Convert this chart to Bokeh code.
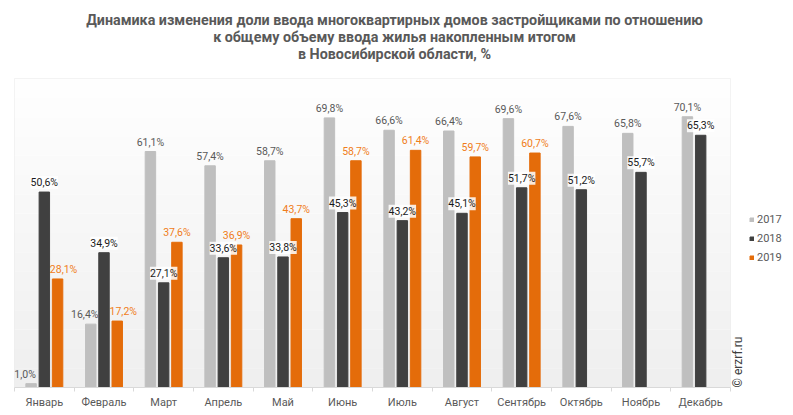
import math
from bokeh.plotting import figure
from bokeh.models import (ColumnDataSource, Range1d, FixedTicker, LabelSet, Label,
                          BoxAnnotation, Legend, LegendItem)
from bokeh.core.properties import value
from bokeh.transform import dodge
from bokeh.embed import file_html
from bokeh.resources import INLINE

# ---- data ----
months = ["Январь", "Февраль", "Март", "Апрель", "Май", "Июнь", "Июль",
          "Август", "Сентябрь", "Октябрь", "Ноябрь", "Декабрь"]
v2017 = [1.0, 16.4, 61.1, 57.4, 58.7, 69.8, 66.6, 66.4, 69.6, 67.6, 65.8, 70.1]
v2018 = [50.6, 34.9, 27.1, 33.6, 33.8, 45.3, 43.2, 45.1, 51.7, 51.2, 55.7, 65.3]
v2019 = [28.1, 17.2, 37.6, 36.9, 43.7, 58.7, 61.4, 59.7, 60.7]
series_names = ["2017", "2018", "2019"]
title_lines = ["Динамика изменения доли ввода многоквартирных домов застройщиками по отношению",
               "к общему объему ввода жилья накопленным итогом",
               "в Новосибирской области, %"]
watermark = "© erzrf.ru"
y_max = 80

C17, C18, C19 = "#bfbfbf", "#404040", "#e46c0a"
TXT = "#595959"
FONT = "Roboto"

# ---- layout geometry (pixels) ----
W, H = 793, 415
PL, PR, PT, PB = 14, 730, 78, 387      # plot-area box inside the canvas
n = len(months)
pxx = (PR - PL) / n
pxy = (PB - PT) / y_max
SHIFT = 6   # side labels move outward when the middle (2018) bar is taller


def fmt(v):
    return ("%.1f%%" % v).replace(".", ",")


def src(vals, side):
    xs = [i + 0.5 for i in range(len(vals))]
    dx = [side * SHIFT if (side and v2018[i] > v) else 0 for i, v in enumerate(vals)]
    return ColumnDataSource(dict(x=xs, y=vals, lab=[fmt(v) for v in vals], dx=dx))


s17, s18, s19 = src(v2017, -1), src(v2018, 0), src(v2019, 1)

p = figure(width=W, height=H, output_backend="svg", toolbar_location=None,
           x_range=Range1d(-PL / pxx, n + (W - PR) / pxx),
           y_range=Range1d(0, PB / pxy),
           y_axis_location=None, title_location=None,
           min_border_left=0, min_border_right=0, min_border_top=0,
           min_border_bottom=H - PB)
p.background_fill_color = "white"
p.border_fill_color = "white"
p.outline_line_color = None
p.xgrid.visible = False
p.ygrid.visible = False

# plot-area background: soft vertical gradient, white at top
bands = 16
for k in range(bands):
    g = int(round(0xee + (0xff - 0xee) * (k + 0.5) / bands))
    p.add_layout(BoxAnnotation(left=0, right=n, bottom=y_max * k / bands,
                               top=y_max * (k + 1) / bands,
                               fill_color="#%02x%02x%02x" % (g, g, g), fill_alpha=1,
                               line_color=None, level="underlay"))
p.add_layout(BoxAnnotation(left=0, right=n, bottom=0, top=y_max, fill_alpha=0,
                           line_color="#d9d9d9", line_width=1, level="underlay"))

off = 0.222
bw = 0.175
r17 = p.vbar(x=dodge("x", -off, range=p.x_range), top="y", width=bw, source=s17,
             fill_color=C17, line_color=C17)
r18 = p.vbar(x=dodge("x", 0, range=p.x_range), top="y", width=bw, source=s18,
             fill_color=C18, line_color=C18)
r19 = p.vbar(x=dodge("x", off, range=p.x_range), top="y", width=bw, source=s19,
             fill_color=C19, line_color=C19)

lab_kw = dict(y="y", text="lab", text_align="center", text_baseline="bottom", y_offset=3,
              x_offset="dx", text_font=value(FONT), text_font_size="10.5px")
p.add_layout(LabelSet(x=dodge("x", -off, range=p.x_range), source=s17,
                      text_color=TXT, **lab_kw))
p.add_layout(LabelSet(x=dodge("x", 0, range=p.x_range), source=s18,
                      text_color="#1a1a1a", background_fill_color="white",
                      background_fill_alpha=0.85, **lab_kw))
p.add_layout(LabelSet(x=dodge("x", off, range=p.x_range), source=s19,
                      text_color="#f07d1a", **lab_kw))

# x axis: labels at category centres, tick marks at category borders
ax = p.xaxis[0]
ax.bounds = (0, n)
ax.ticker = FixedTicker(ticks=[i + 0.5 for i in range(n)],
                        minor_ticks=list(range(n + 1)))
ax.major_label_overrides = {i + 0.5: m for i, m in enumerate(months)}
ax.major_tick_out = 0
ax.major_tick_in = 0
ax.minor_tick_out = 4
ax.minor_tick_in = 0
ax.minor_tick_line_color = "#d9d9d9"
ax.axis_line_color = "#d9d9d9"
ax.major_label_text_font = FONT
ax.major_label_text_font_size = "11px"
ax.major_label_text_color = TXT
ax.major_label_standoff = 4

# title (screen units, measured from the bottom of the frame)
for line, ty in zip(title_lines, [19, 36, 53]):
    p.add_layout(Label(x=394, y=PB - ty, x_units="screen", y_units="screen", text=line,
                       text_align="center", text_baseline="middle", text_font=FONT,
                       text_font_style="bold", text_font_size="14.3px", text_color=TXT))

# watermark
p.add_layout(Label(x=737, y=0, x_units="screen", y_units="screen", text=watermark,
                   angle=math.pi / 2, text_align="left", text_baseline="middle",
                   text_font=FONT, text_font_size="12px", text_color="#404040"))

legend = Legend(items=[LegendItem(label=series_names[0], renderers=[r17]),
                       LegendItem(label=series_names[1], renderers=[r18]),
                       LegendItem(label=series_names[2], renderers=[r19])],
                location=(749, PB - 264), orientation="vertical",
                glyph_width=5, glyph_height=5, label_height=13, spacing=6,
                label_text_font=FONT, label_text_font_size="11px",
                label_text_color=TXT, background_fill_alpha=0,
                border_line_alpha=0, padding=0, margin=0, label_standoff=3)
p.add_layout(legend, "center")

open("out.html", "w").write(file_html(p, INLINE))
